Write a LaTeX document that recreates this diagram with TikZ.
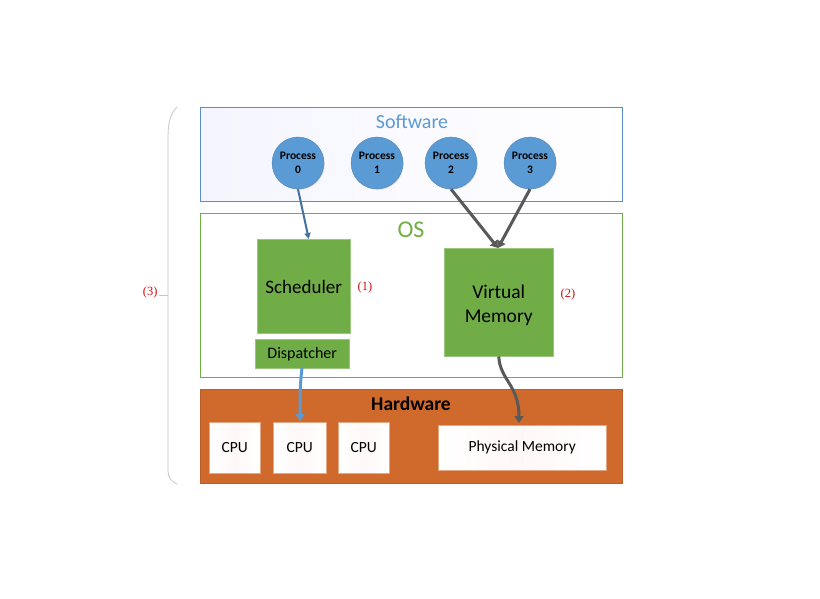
\documentclass[tikz,border=0pt]{standalone}
\usepackage{fontspec}
\setmainfont{Carlito}
\newfontfamily\serifnum{Liberation Serif}
\usetikzlibrary{arrows.meta,shadows}
\definecolor{swblue}{HTML}{5B9BD5}
\definecolor{swborder}{HTML}{5B8DC8}
\definecolor{osgreen}{HTML}{70AD47}
\definecolor{hwor}{HTML}{D06A2C}
\definecolor{darkarrow}{HTML}{595959}
\definecolor{bluearrow}{HTML}{41719C}
\definecolor{labred}{HTML}{D01010}
\tikzset{
  layer/.style={draw, line width=0.8pt, anchor=north west, inner sep=0pt},
  proc/.style={circle, fill=swblue, draw=swblue!80!black, line width=0.3pt, minimum size=52pt, inner sep=0pt, align=center, font=\fontsize{11.5}{14}\selectfont\bfseries, drop shadow={shadow xshift=0.8pt, shadow yshift=-0.8pt, opacity=0.25}},
  gbox/.style={fill=osgreen, draw=osgreen!70!white, line width=0.5pt, anchor=north west, inner sep=0pt, align=center, drop shadow={shadow xshift=1pt, shadow yshift=-1pt, opacity=0.2}},
  hwbox/.style={left color=white, right color=white, middle color=red!3, draw=hwor!60!white, line width=0.4pt, anchor=north west, inner sep=0pt},
  hwtext/.style={font=\fontsize{15.5}{18}\selectfont},
  numlab/.style={text=labred, font=\serifnum\fontsize{12.5}{14}\selectfont},
  thickarr/.style={line width=3pt, -{Triangle[length=7pt,width=9pt]}},
}
\begin{document}
\begin{tikzpicture}[x=1pt,y=-1pt]
\useasboundingbox (0,0) rectangle (820,599);
% Software
\node[layer, draw=swborder, left color=blue!4, right color=white, minimum width=422pt, minimum height=94pt] (sw) at (200,107) {};
\node[text=swblue, font=\fontsize{20}{22}\selectfont] (swt) at (412,122) {Software};
\node[proc] (p0) at (298,163) {Process\\0};
\node[proc] (p1) at (377,163) {Process\\1};
\node[proc] (p2) at (451,163) {Process\\2};
\node[proc] (p3) at (530,163) {Process\\3};
% OS
\node[layer, draw=osgreen, fill=white, minimum width=422pt, minimum height=164pt] (os) at (200,213) {};
\node[text=osgreen, font=\fontsize{24}{26}\selectfont] (ost) at (411,230) {OS};
\node[gbox, minimum width=93pt, minimum height=94pt] (sch) at (257,239) {};
\node[font=\fontsize{19}{22}\selectfont] (scht) at ([yshift=-1pt]sch.center) {Scheduler};
\node[gbox, minimum width=94pt, minimum height=29pt] (dis) at (255,339) {};
\node[font=\fontsize{16}{18}\selectfont] (dist) at (dis.center) {Dispatcher};
\node[gbox, minimum width=109pt, minimum height=108pt] (vm) at (444,248) {};
\node[align=center, font=\fontsize{19.5}{24}\selectfont] (vmt) at ([yshift=-3pt]vm.center) {Virtual\\Memory};
\node[numlab] (l1) at (365,287) {(1)};
\node[numlab] (l2) at (568,294) {(2)};
% Hardware
\node[layer, draw=hwor!90!black, fill=hwor, minimum width=422pt, minimum height=94pt] (hw) at (200,389) {};
\node[font=\fontsize{19.5}{22}\selectfont\bfseries] (hwt) at (411,404) {Hardware};
\node[hwbox, minimum width=51pt, minimum height=51pt] (c0) at (209,422) {};
\node[hwtext] at (c0.center) {CPU};
\node[hwbox, minimum width=53pt, minimum height=51pt] (c1) at (273,422) {};
\node[hwtext] at (c1.center) {CPU};
\node[hwbox, minimum width=51pt, minimum height=51pt] (c2) at (338,422) {};
\node[hwtext] at (c2.center) {CPU};
\node[hwbox, minimum width=168pt, minimum height=45pt] (pm) at (438,425) {};
\node[hwtext] at (pm.center) {Physical Memory};
% Brace
\draw[gray!45, line width=0.8pt] (177,107) .. controls (169,115) and (168,125) .. (168,140) -- (168,470) .. controls (168,478) and (172,482) .. (177,484);
\draw[gray!45, line width=0.8pt] (168,295) -- (159,295);
\node[numlab, anchor=east] (l3) at (161,292) {(3)};
% arrows
\draw[bluearrow, line width=2pt, -{Triangle[length=6pt,width=6pt]}] (p0.south) -- ([xshift=5pt]sch.north);
\coordinate (vmin) at (498,248);
\draw[darkarrow, thickarr] (p2.south) -- (vmin);
\draw[darkarrow, thickarr] (p3.south) -- (vmin);
\draw[darkarrow, thickarr] (vm.south) .. controls (500,380) and (519,385) .. (519,423);
\draw[swblue, thickarr] (302,368) .. controls (300,385) and (300,395) .. (300,421);
\end{tikzpicture}
\end{document}
